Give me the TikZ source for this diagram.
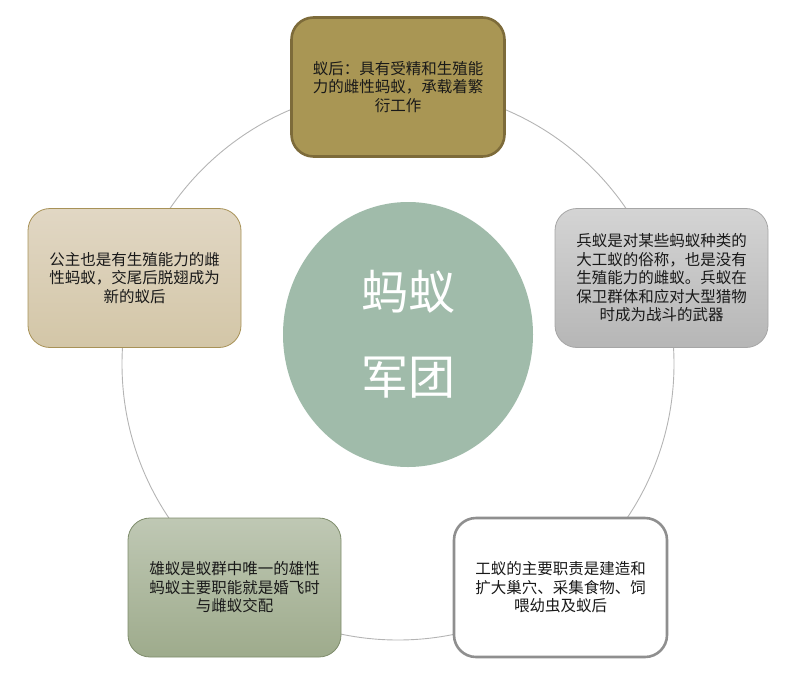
\documentclass[tikz,border=0pt]{standalone}
\usepackage{fontspec}
\setmainfont{Noto Sans CJK SC}
\usetikzlibrary{shapes.geometric}
\definecolor{queenfill}{HTML}{A99654}
\definecolor{queenline}{HTML}{7D6B3A}
\definecolor{soldtop}{HTML}{D4D4D4}
\definecolor{soldbot}{HTML}{B6B6B6}
\definecolor{soldline}{HTML}{A6A6A6}
\definecolor{workline}{HTML}{8F8F8F}
\definecolor{maletop}{HTML}{BFC8B4}
\definecolor{malebot}{HTML}{9EAB8C}
\definecolor{maleline}{HTML}{7E8C6B}
\definecolor{princtop}{HTML}{E1D7C4}
\definecolor{princbot}{HTML}{D3C6A7}
\definecolor{princline}{HTML}{A89257}
\definecolor{armyfill}{HTML}{A0BBAA}
\definecolor{ringline}{HTML}{B4B4B4}

\begin{document}
\begin{tikzpicture}[x=1pt,y=-1pt]
    \tikzset{caste/.style = {shape=rectangle, rounded corners=22pt, minimum width=213pt, minimum height=139pt, align=center, text=black!90, font=\fontsize{15.5}{18.5}\selectfont}}
    \tikzset{ring/.style = {draw=ringline, line width=0.9pt}}
    \useasboundingbox (0,0) rectangle (795,678);

    % ring
    \coordinate (ringc) at (398,364);
    \draw[ring] (ringc) circle (276);

    % center
    \node[ellipse, fill=armyfill, minimum width=250pt, minimum height=265pt] (army) at (408,334.5) {};
    \node[text=white, font=\fontsize{47}{85}\selectfont, align=center] (armytxt) at (army) {蚂蚁\\军团};

    % castes
    \node[caste, fill=queenfill, draw=queenline, line width=2.6pt] (queen) at (398,87)
        {蚁后：具有受精和生殖能\\力的雌性蚂蚁，承载着繁\\衍工作};
    \node[caste, top color=soldtop, bottom color=soldbot, draw=soldline, line width=0.8pt] (soldier) at (661.5,278)
        {兵蚁是对某些蚂蚁种类的\\大工蚁的俗称，也是没有\\生殖能力的雌蚁。兵蚁在\\保卫群体和应对大型猎物\\时成为战斗的武器};
    \node[caste, fill=white, draw=workline, line width=2.6pt] (worker) at (560.5,587.5)
        {工蚁的主要职责是建造和\\扩大巢穴、采集食物、饲\\喂幼虫及蚁后};
    \node[caste, top color=maletop, bottom color=malebot, draw=maleline, line width=0.8pt] (male) at (234.5,587.5)
        {雄蚁是蚁群中唯一的雄性\\蚂蚁主要职能就是婚飞时\\与雌蚁交配};
    \node[caste, top color=princtop, bottom color=princbot, draw=princline, line width=0.8pt] (princess) at (134.5,278)
        {公主也是有生殖能力的雌\\性蚂蚁，交尾后脱翅成为\\新的蚁后};
\end{tikzpicture}
\end{document}
